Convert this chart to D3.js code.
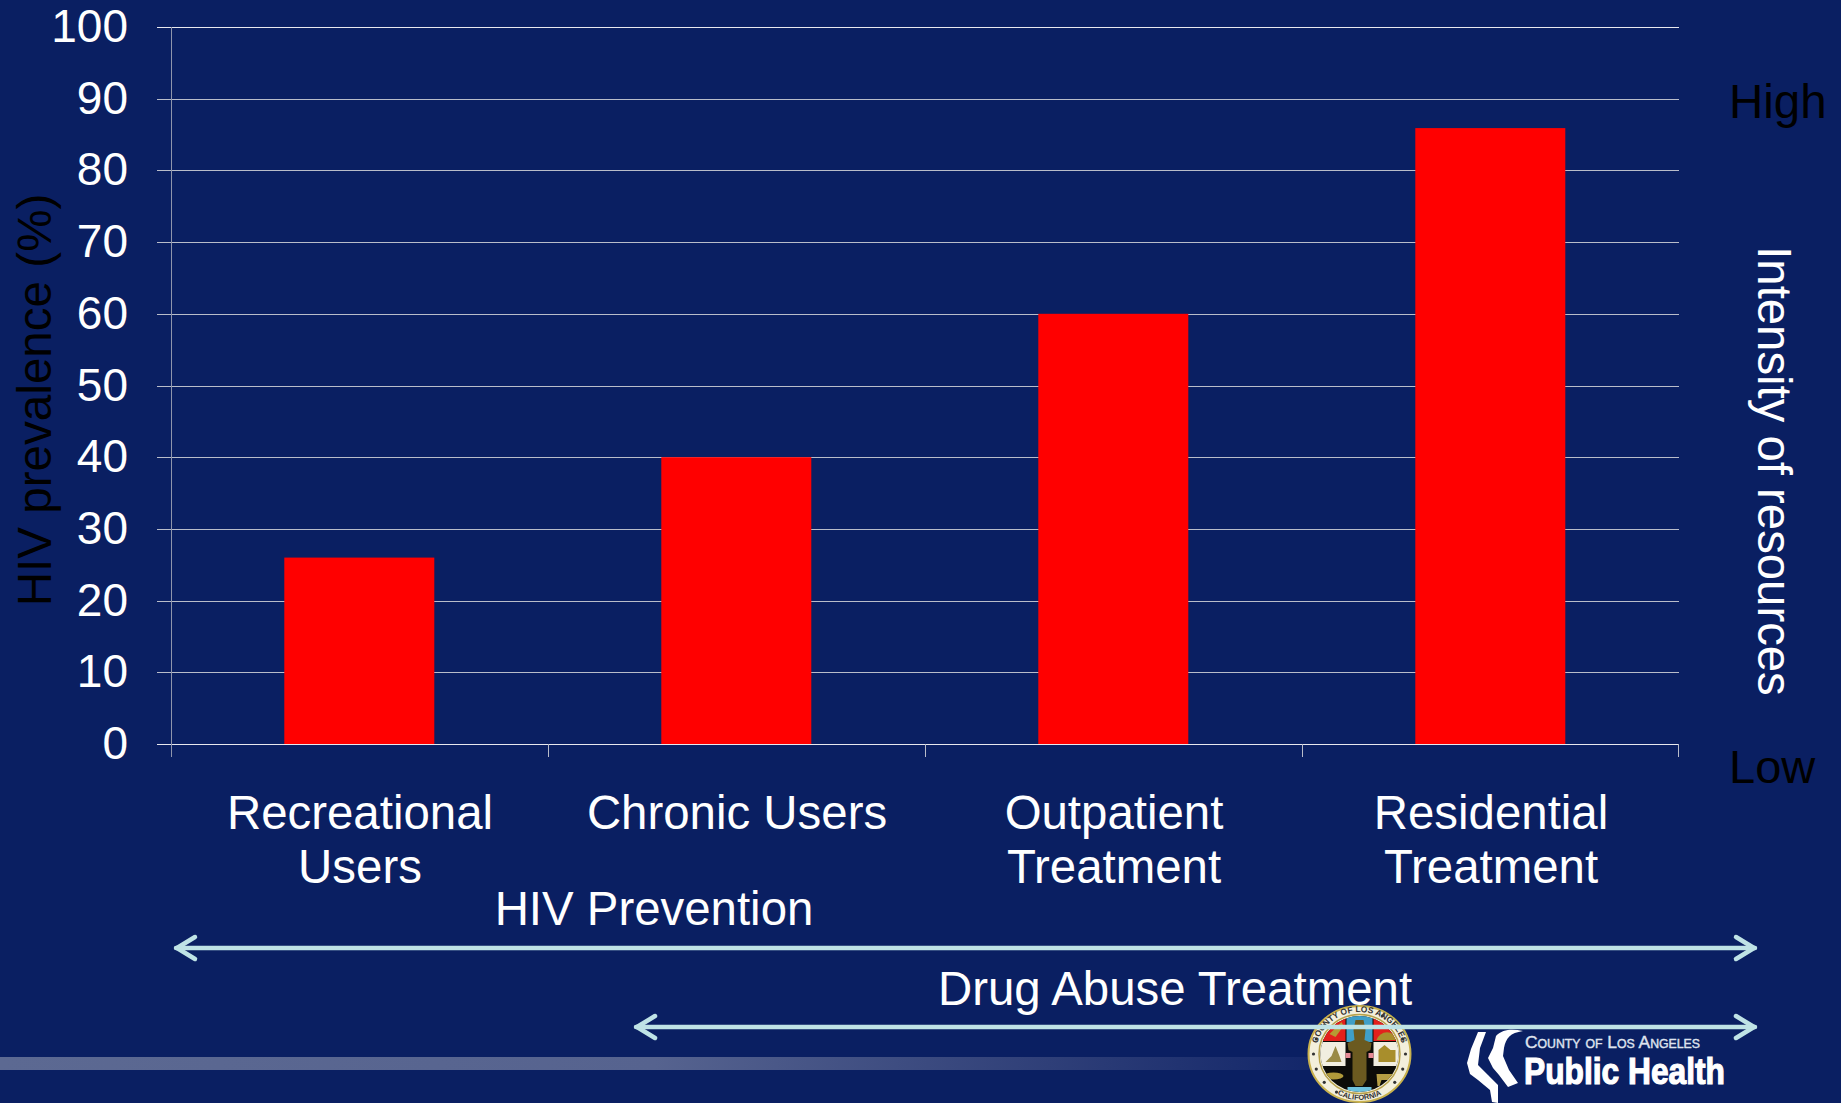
<!DOCTYPE html>
<html><head><meta charset="utf-8"><script src="https://cdn.jsdelivr.net/npm/d3@7"></script>
<style>html,body{margin:0;padding:0;background:#0a1f62;overflow:hidden}svg{display:block}text{font-family:"Liberation Sans",Arial,sans-serif}</style></head><body><svg id="c" width="1841" height="1103"></svg>
<script>
const categories=[["Recreational","Users"],["Chronic Users"],["Outpatient","Treatment"],["Residential","Treatment"]];
const values=[26,40,60,85.9];
const yTicks=[0,10,20,30,40,50,60,70,80,90,100];
const svg=d3.select("#c");
const bg="#0a1f62",white="#ffffff",arrowCol="#bfe3e6";
svg.append("rect").attr("width",1841).attr("height",1103).attr("fill",bg);
const defs=svg.append("defs");
const g=defs.append("linearGradient").attr("id","band");
[[0,"#5c6992"],[0.5,"#56638f"],[0.8,"#2f3f78"],[1,"#13276a"]].forEach(s=>g.append("stop").attr("offset",s[0]).attr("stop-color",s[1]));
svg.append("rect").attr("x",0).attr("y",1057).attr("width",1310).attr("height",13).attr("fill","url(#band)");
const band=d3.scaleBand().domain(d3.range(values.length)).range([171.5,1679.5]);
const y=d3.scaleLinear().domain([0,100]).range([744,27]);
// grid
svg.append("g").selectAll("line").data(yTicks).join("line")
 .attr("x1",157).attr("x2",1679).attr("y1",d=>Math.round(y(d))+.5).attr("y2",d=>Math.round(y(d))+.5)
 .attr("stroke",d=>d==100||d==0?"#e8e8ee":"#b9bdca").attr("stroke-width",1);
svg.append("line").attr("x1",171.5).attr("x2",171.5).attr("y1",27).attr("y2",757).attr("stroke","#8f95ac");
svg.append("g").selectAll("line").data(d3.range(1,5)).join("line")
 .attr("x1",d=>171.5+d*band.step()-(d==4?1:0)).attr("x2",d=>171.5+d*band.step()-(d==4?1:0)).attr("y1",744).attr("y2",757).attr("stroke","#b9bdca");
// bars
svg.append("g").selectAll("rect").data(values).join("rect")
 .attr("x",(d,i)=>band(i)+band.bandwidth()/2-75.7).attr("width",150).attr("y",d=>y(d)).attr("height",d=>y(0)-y(d)).attr("fill","#ff0000");
// y labels
svg.append("g").selectAll("text").data(yTicks).join("text").attr("x",128).attr("y",d=>y(d)+15).attr("text-anchor","end").attr("font-size",46).attr("fill",white).text(d=>d);
// categories
categories.forEach((c,i)=>{c.forEach((t,j)=>{svg.append("text").attr("x",band(i)+band.bandwidth()/2).attr("y",829+j*54).attr("text-anchor","middle").attr("font-size",47.4).attr("fill",white).text(t);});});
const rot=(t,cx,cy,a,size,fill)=>svg.append("text").attr("transform",`translate(${cx},${cy}) rotate(${a})`).attr("text-anchor","middle").attr("font-size",size).attr("fill",fill).text(t);
rot("HIV prevalence (%)",51,400,-90,47.6,"#000");
rot("Intensity of resources",1758,471,90,47.3,white);
svg.append("text").attr("x",1729).attr("y",118).attr("font-size",47.5).attr("fill","#000").text("High");
svg.append("text").attr("x",1729).attr("y",783).attr("font-size",47).attr("fill","#000").text("Low");
svg.append("text").attr("x",654).attr("y",925).attr("text-anchor","middle").attr("font-size",47.4).attr("fill",white).text("HIV Prevention");
// arrows
const arrow=(x1,x2,yy)=>{const a=svg.append("g").attr("fill","none").attr("stroke",arrowCol).attr("stroke-width",4.5).attr("stroke-linecap","round").attr("stroke-linejoin","round");
 a.append("line").attr("x1",x1+2).attr("x2",x2-2).attr("y1",yy).attr("y2",yy);
 a.append("path").attr("d",`M${x1+21},${yy-11}L${x1+3},${yy}L${x1+21},${yy+11}`);
 a.append("path").attr("d",`M${x2-21},${yy-11}L${x2-3},${yy}L${x2-21},${yy+11}`);};
// seal
const s=svg.append("g").attr("transform","translate(1359.5,1054)");
defs.append("clipPath").attr("id","shield").append("ellipse").attr("rx",39).attr("ry",38);
s.append("ellipse").attr("rx",51).attr("ry",48).attr("fill","#f3efdc").attr("stroke","#c9b24e").attr("stroke-width",2);
s.append("ellipse").attr("rx",40.5).attr("ry",39.5).attr("fill","none").attr("stroke","#b8a24a").attr("stroke-width",1.5);
const q=s.append("g").attr("clip-path","url(#shield)");
q.append("rect").attr("x",-40).attr("y",-40).attr("width",80).attr("height",80).attr("fill","#0c0c08");
q.append("rect").attr("x",-40).attr("y",-40).attr("width",26).attr("height",27).attr("fill","#e3201c");
q.append("rect").attr("x",14).attr("y",-40).attr("width",26).attr("height",27).attr("fill","#e3201c");
q.append("rect").attr("x",-40).attr("y",-12).attr("width",26).attr("height",24).attr("fill","#f1eee0");
q.append("rect").attr("x",14).attr("y",-12).attr("width",26).attr("height",24).attr("fill","#f1eee0");
q.append("rect").attr("x",-13).attr("y",-40).attr("width",26).attr("height",28).attr("fill","#3f9fc8");
q.append("rect").attr("x",-12).attr("y",33).attr("width",24).attr("height",7).attr("fill","#6fc3dd");
q.append("path").attr("d","M-30,-20 L-18,-32 L-16,-28 L-24,-17 Z").attr("fill","#b69a33");
q.append("path").attr("d","M17,-14 A11,11 0 0 1 38,-14 Z").attr("fill","#a88e2c");
q.append("path").attr("d","M-34,8 L-18,8 L-20,2 L-24,-8 L-28,2 Z").attr("fill","#9a8a45");
q.append("path").attr("d","M19,8 L19,-4 L25,-9 L31,-4 L36,-4 L36,8 Z").attr("fill","#a88e2c");
q.append("ellipse").attr("cx",-26).attr("cy",22).attr("rx",10).attr("ry",3.5).attr("fill","#b09a3a");
q.append("path").attr("d","M17,20 L33,20 L37,16 L37,22 L34,24 L34,31 L31,31 L30,26 L22,26 L20,32 L18,32Z").attr("fill","#b69f44");
q.append("path").attr("d","M-4,-34 L4,-34 L6,-24 L5,-14 L12,-11 L11,-4 L7,-2 L7,26 L3,32 L-4,32 L-7,26 L-7,-2 L-11,-4 L-12,-11 L-5,-14 L-6,-24Z").attr("fill","#6b5a20");
q.append("rect").attr("x",-14).attr("y",-1).attr("width",5).attr("height",5).attr("fill","#e58a95");
q.append("rect").attr("x",9).attr("y",-1).attr("width",5).attr("height",5).attr("fill","#e58a95");
s.append("g").selectAll("circle").data([-60,-40,-20,0,20,40,120,140,160,180,200,220]).join("circle")
 .attr("cx",d=>46*Math.cos(d*Math.PI/180)).attr("cy",d=>44*Math.sin(d*Math.PI/180)).attr("r",1.6).attr("fill","#333");
const arcT=(id,d,t,fs)=>{defs.append("path").attr("id",id).attr("d",d);s.append("text").attr("font-size",fs).attr("font-weight","bold").attr("fill","#333").append("textPath").attr("href","#"+id).attr("startOffset","50%").attr("text-anchor","middle").text(t);};
arcT("a1","M-43,-2 A43,40 0 0 1 43,-2","COUNTY OF LOS ANGELES",8.5);
arcT("a2","M-44,4 A44,42 0 0 0 44,4","CALIFORNIA",7.5);
svg.append("text").attr("x",1175).attr("y",1005).attr("text-anchor","middle").attr("font-size",47.4).attr("fill",white).text("Drug Abuse Treatment");
arrow(174,1757,948);arrow(634,1757,1027);
// logo
const lg=svg.append("g").attr("fill",white);
lg.append("path").attr("d","M1478,1032 L1486,1032 L1480,1048 L1478,1065 L1488,1075 L1498,1085 L1498,1088 L1498,1103 L1492,1102 L1490,1090 L1478,1080 L1470,1074 L1467,1063 L1471,1049 Z");
lg.append("path").attr("d","M1523,1031 C1510,1033 1506,1038 1504,1048 L1503,1056 L1509,1070 L1518,1083 L1508,1087 L1499,1075 L1493,1068 L1488,1058 L1493,1048 L1496,1036 C1503,1029 1512,1029 1523,1031 Z");
lg.append("text").attr("x",1525).attr("y",1048).attr("font-size",17).attr("font-variant","small-caps").attr("textLength",175).attr("lengthAdjust","spacingAndGlyphs").attr("fill","#dfe3ee").attr("stroke","#dfe3ee").attr("stroke-width",.4).text("County of Los Angeles");
lg.append("text").attr("x",1524).attr("y",1084).attr("font-size",37).attr("font-weight","bold").attr("textLength",201).attr("lengthAdjust","spacingAndGlyphs").attr("stroke",white).attr("stroke-width",1.2).text("Public Health");
</script></body></html>
